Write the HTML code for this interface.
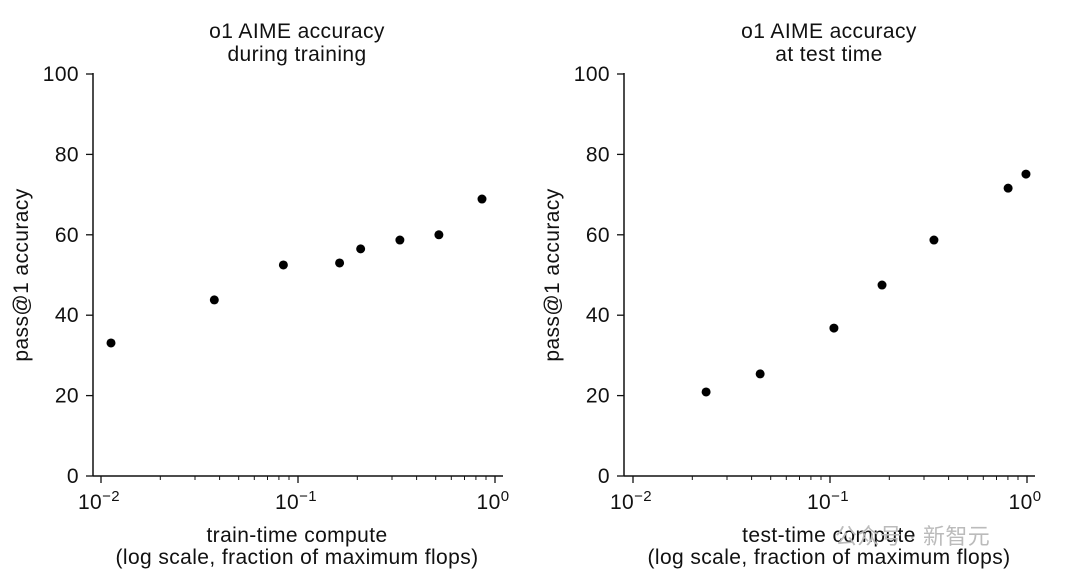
<!DOCTYPE html>
<html><head><meta charset="utf-8"><style>
body{margin:0;background:#fff;}
svg text{font-family:"Liberation Sans","Noto Sans CJK SC",sans-serif;fill:#111;letter-spacing:0.4px;}
</style></head><body>
<svg id="chart" width="1080" height="578" viewBox="0 0 1080 578" xmlns="http://www.w3.org/2000/svg"></svg>
<script>
const trainX=[0.01124,0.0376,0.0843,0.1626,0.208,0.329,0.519,0.859];
const trainY=[33.1,43.8,52.5,53,56.5,58.7,60,68.9];
const testX=[0.0235,0.0442,0.1047,0.1837,0.337,0.802,0.988];
const testY=[20.9,25.4,36.8,47.5,58.7,71.6,75.1];
const yTicks=[0,20,40,60,80,100];
const xDecades=[-2,-1,0];
const panels=[
 {name:'train',ax:93,x0:101,end:503,tc:297,t1:'o1 AIME accuracy',t2:'during training',xl:'train-time compute',xs:trainX,ys:trainY,ylx:22},
 {name:'test',ax:624,x0:633,end:1035,tc:829,t1:'o1 AIME accuracy',t2:'at test time',xl:'test-time compute',xs:testX,ys:testY,ylx:553}
];
const svg=document.getElementById('chart');
const NS='http://www.w3.org/2000/svg';
function mk(t,a,txt){const e=document.createElementNS(NS,t);for(const k in a)e.setAttribute(k,a[k]);if(txt!==undefined)e.textContent=txt;svg.appendChild(e);return e;}
const dec=197,y0=476,ppu=4.02;
function ys(v){return y0-v*ppu;}
panels.forEach(p=>{
 const xs=v=>p.x0+(Math.log10(v)+2)*dec;
 const cx=p.tc;
 let e=mk('text',{x:cx,y:38,'text-anchor':'middle','font-size':21},p.t1);
 
 e=mk('text',{x:cx,y:61,'text-anchor':'middle','font-size':21},p.t2);
 
 e=mk('line',{x1:p.ax,y1:73,x2:p.ax,y2:y0+0.5,stroke:'#111','stroke-width':1.5});
 
 e=mk('line',{x1:p.ax,y1:y0,x2:p.end,y2:y0,stroke:'#111','stroke-width':1.5});
 
 yTicks.forEach(v=>{
  e=mk('line',{x1:p.ax-7,y1:ys(v),x2:p.ax,y2:ys(v),stroke:'#111','stroke-width':1.3});
  
  e=mk('text',{x:p.ax-14,y:ys(v)+7,'text-anchor':'end','font-size':21},String(v));
  
 });
 xDecades.forEach(d=>{
  const x=xs(Math.pow(10,d));
  e=mk('line',{x1:x,y1:y0,x2:x,y2:y0+7,stroke:'#111','stroke-width':1.3});
  
  e=mk('text',{x:x-2,y:y0+33,'text-anchor':'middle','font-size':21});
  e.innerHTML='10<tspan dy="-8" font-size="15">'+(d<0?'\u2212'+(-d):d)+'</tspan>';
  
  if(d<0){for(let m=2;m<=9;m++){const xm=xs(m*Math.pow(10,d));
   e=mk('line',{x1:xm,y1:y0,x2:xm,y2:y0+4,stroke:'#111','stroke-width':1});
   }}
 });
 e=mk('text',{x:cx,y:542,'text-anchor':'middle','font-size':21},p.xl);
 
 e=mk('text',{x:cx,y:564,'text-anchor':'middle','font-size':21},'(log scale, fraction of maximum flops)');
 
 e=mk('text',{x:p.ylx+6,y:275,'text-anchor':'middle','font-size':21,transform:'rotate(-90 '+(p.ylx+6)+' 275)'},'pass@1 accuracy');
 
 p.xs.forEach((v,i)=>{
  e=mk('circle',{cx:xs(v),cy:ys(p.ys[i]),r:4.5,fill:'#000'});
  
 });
});
let w=mk('text',{x:835,y:544,'font-size':22,style:'fill:#bbb'},'公众号 · 新智元');

</script>
</body></html>
